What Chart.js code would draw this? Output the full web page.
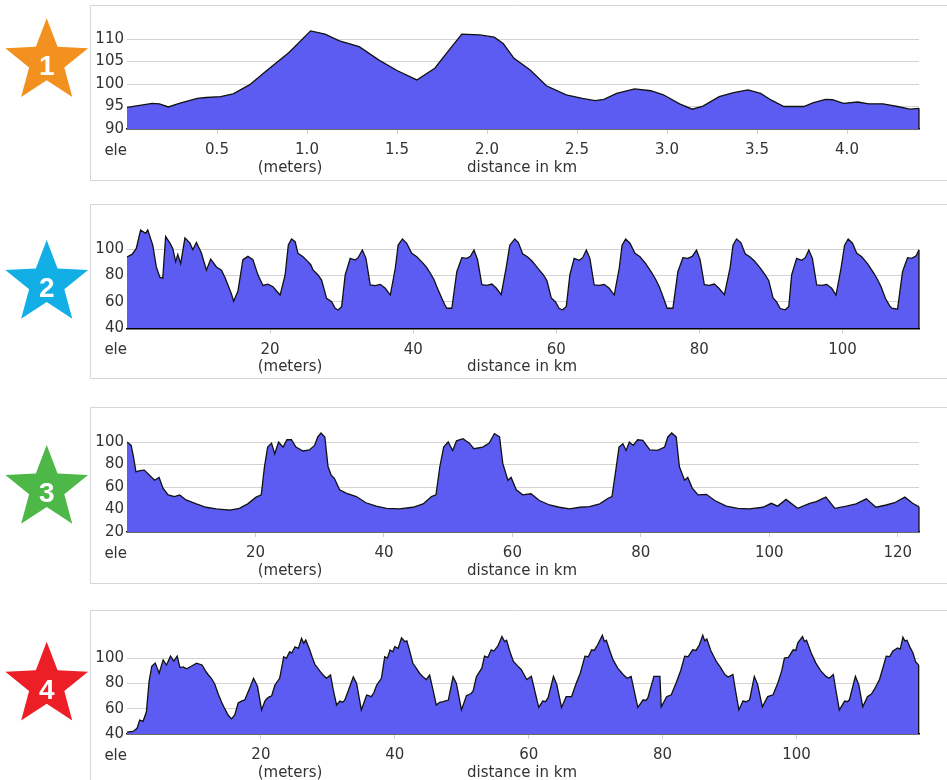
<!DOCTYPE html>
<html>
<head>
<meta charset="utf-8">
<script src="https://cdn.jsdelivr.net/npm/chart.js@4.4.0/dist/chart.umd.min.js"></script>
<style>
  body { margin: 0; background: #fff; width: 947px; height: 780px; position: relative; overflow: hidden; }
  canvas { position: absolute; left: 0; }
</style>
</head>
<body>
<canvas id="c1" width="947" height="195" style="top:0px"></canvas>
<canvas id="c2" width="947" height="200" style="top:195px"></canvas>
<canvas id="c3" width="947" height="200" style="top:395px"></canvas>
<canvas id="c4" width="947" height="185" style="top:595px"></canvas>
<script>
// === Profil 1 : distance (km) / altitude (m) ===
const dist1 = [0, 0.14, 0.18, 0.23, 0.29, 0.39, 0.44, 0.52, 0.59, 0.68, 0.78, 0.9, 1.02, 1.1, 1.18, 1.29, 1.4, 1.5, 1.61, 1.71, 1.79, 1.86, 1.96, 2.04, 2.09, 2.15, 2.24, 2.33, 2.44, 2.53, 2.6, 2.65, 2.72, 2.82, 2.91, 2.98, 3.07, 3.14, 3.2, 3.29, 3.37, 3.45, 3.52, 3.58, 3.65, 3.76, 3.81, 3.88, 3.92, 3.98, 4.06, 4.12, 4.2, 4.28, 4.35, 4.4];
const ele1 = [94.8, 95.7, 95.6, 94.9, 95.7, 96.8, 97.0, 97.2, 97.8, 99.8, 103.1, 107.0, 111.8, 111.1, 109.6, 108.3, 105.3, 103.0, 100.9, 103.5, 107.6, 111.1, 110.9, 110.4, 109.0, 105.7, 103.1, 99.6, 97.6, 96.8, 96.3, 96.6, 97.9, 98.9, 98.5, 97.6, 95.6, 94.4, 95.1, 97.2, 98.1, 98.7, 97.9, 96.4, 95.0, 95.0, 95.8, 96.6, 96.5, 95.7, 96.0, 95.6, 95.6, 95.0, 94.4, 94.6];
const xTicks1 = [0.5, 1.0, 1.5, 2.0, 2.5, 3.0, 3.5, 4.0];
const yTicks1 = [90, 95, 100, 105, 110];

// === Profil 2 ===
const dist2 = [0, 0.7, 1.3, 1.9, 2.6, 2.9, 3.6, 4.1, 4.6, 5.0, 5.4, 6.0, 6.4, 6.8, 7.1, 7.5, 8.1, 8.8, 9.2, 9.7, 10.4, 11.1, 11.7, 12.5, 13.2, 13.7, 14.6, 14.9, 15.5, 16.2, 16.9, 17.6, 18.3, 19.0, 19.7, 20.4, 21.4,
  22.1, 22.55, 23.0, 23.5, 23.9, 24.6, 25.3, 25.7, 26.0, 26.7, 27.2, 27.9, 28.6, 29.1, 29.5, 30.0, 30.5, 31.2, 31.9, 32.3, 32.9, 33.4, 34.0, 34.7, 35.4, 36.1, 36.8,
  37.5, 37.9, 38.5, 39.1, 39.8, 40.5, 41.0, 41.4, 41.9, 42.4, 42.9, 43.3, 44.0, 44.4, 44.7, 45.4, 46.1, 46.8, 47.5, 48.0, 48.5, 49.0, 49.6, 50.3, 51.0, 51.6, 52.3,
  53.0, 53.5, 54.2, 54.7, 55.3, 56.0, 56.6, 57.0, 57.5, 58.2, 58.7, 59.3, 59.9, 60.4, 60.9, 61.4, 61.9, 62.5, 63.2, 63.7, 64.2, 64.7, 65.3, 66.0, 66.7, 67.4, 68.1,
  68.8, 69.2, 69.7, 70.3, 71.0, 71.7, 72.5, 73.4, 73.9, 74.4, 75.0, 75.5, 76.3, 77.0, 77.7, 78.4, 79.0, 79.6, 80.1, 80.7, 81.4, 82.1, 82.7, 83.5,
  84.3, 84.7, 85.2, 85.8, 86.4, 87.1, 87.7, 88.1, 88.6, 89.2, 89.7, 90.3, 90.8, 91.3, 92.0, 92.5, 92.9, 93.6, 94.3, 94.8, 95.3, 95.8, 96.4, 97.1, 97.8, 98.5, 99.1,
  99.8, 100.3, 100.8, 101.4, 102.0, 102.7, 103.5, 104.4, 104.9, 105.4, 106.0, 106.6, 106.9, 107.7, 108.4, 109.1, 109.7, 110.3, 110.7];
const ele2 = [94, 96, 100.5, 114.5, 112, 114.5, 103, 86.5, 78.5, 78, 109.5, 104.5, 100.5, 90.5, 96, 89, 108.5, 104.5, 99.5, 105, 97, 84, 92.5, 86.5, 84, 78.5, 66, 60.5, 68, 92, 94.5, 92, 80.5, 72.5, 73.5, 71.5, 65.2,
  80.4, 103.1, 107.7, 105.6, 96.8, 94.2, 90.5, 88, 84.2, 80.4, 76.6, 62.7, 60.2, 55.2, 53.9, 56.4, 80.4, 93, 91.7, 93.5, 99.3, 93, 72.8, 72.3, 73.3, 70.3, 65.2,
  85.5, 103.1, 107.7, 104.4, 96.8, 94.2, 91.5, 89.2, 86, 81.7, 77, 71.5, 62.7, 58, 55.2, 55.2, 83, 93.5, 93, 94.5, 99.3, 92, 73, 72.5, 73.5, 70.5, 65.5,
  86, 103, 107.7, 105, 96.5, 94, 91, 88.5, 85, 80.5, 76, 63, 60, 55, 54, 56.5, 80.5, 93, 91.5, 93.5, 99.3, 93, 72.8, 72.5, 73.3, 70.3, 65.2,
  85.5, 103, 107.7, 104.5, 96.8, 94.2, 89, 81.7, 77, 71.5, 62.7, 55.2, 55.2, 83, 93.5, 93, 94.5, 99.3, 92, 73, 72.5, 73.5, 70.5, 65.5,
  86, 103, 107.7, 105, 96.5, 94, 91, 88.5, 85, 80.5, 76, 63, 60, 55, 54, 56.5, 80.5, 93, 91.5, 93.5, 99.3, 93, 72.8, 72.5, 73.3, 70.3, 65.2,
  85.5, 103, 107.7, 104.5, 96.8, 94.2, 89, 81.7, 77, 71.5, 62.7, 57, 55.2, 54.5, 83, 93.5, 93, 95, 99.5];
const xTicks2 = [20, 40, 60, 80, 100];
const yTicks2 = [40, 60, 80, 100];

// === Profil 3 ===
const dist3 = [0, 0.65, 1.0, 1.4, 2.0, 2.7, 3.5, 4.3, 5.0, 5.6, 6.4, 7.4, 8.2, 9.2, 10.8, 12.3, 13.9, 16.0, 17.5, 18.8, 20.1, 20.9, 21.4, 21.9, 22.5, 23.0, 23.6, 24.3, 24.9, 25.6, 26.3, 27.4, 28.4, 29.2, 29.7, 30.2, 30.8, 31.3, 31.8, 32.3, 33.1, 34.1, 35.7, 37.2, 38.8, 40.4, 42.4, 44.5, 46.1, 47.4, 48.1, 48.7, 49.3, 50.0, 50.7, 51.3, 52.3, 53.3, 54.0, 55.4, 56.4, 57.2, 58.0, 58.5, 59.3, 59.8, 60.6, 61.6, 62.9, 64.2, 65.8, 67.3, 68.9, 70.5, 72.0, 73.6, 74.9, 75.5, 76.1, 76.6, 77.2, 77.7, 78.2, 78.8, 79.5, 80.3, 81.4, 82.6, 83.7, 84.2, 84.8, 85.5, 86.0, 86.8, 87.3, 88.0, 88.9, 90.2, 91.5, 93.3, 95.1, 96.9, 99.0, 100.3, 101.3, 102.6, 104.4, 106.3, 107.3, 108.8, 110.2, 112.0, 113.5, 115.1, 116.6, 118.2, 119.5, 121.1, 122.3, 123.3];
const ele3 = [100, 97, 87, 73.5, 74.5, 75, 70.5, 66, 68.5, 59, 53, 51.5, 53, 48.5, 45, 42, 40.5, 39.5, 41, 45, 51, 53, 78, 95.5, 99, 89.5, 100, 95.5, 102, 102, 95.5, 92, 93, 97, 104.5, 108, 104.5, 78, 70.5, 67.5, 57.5, 54.5, 51.5, 46, 43, 41, 40.5, 42, 45, 51.5, 53, 78, 95.5, 100, 92.5, 101, 103, 99, 94, 95.5, 99, 107.5, 104.5, 81, 66, 68.5, 57.5, 53, 54, 48, 44, 42, 40.5, 42, 42.5, 45, 50, 51.5, 75, 95.5, 98.5, 92.5, 100, 97, 102, 101.5, 93, 92.5, 95.5, 104.5, 108, 104.5, 78, 66, 68.5, 59, 53, 53.5, 48, 43, 41, 40.5, 42, 45.5, 43, 49, 41, 45.5, 47, 51, 41, 43, 45, 49.5, 42, 44, 46, 51, 45.5, 42.5];
const xTicks3 = [20, 40, 60, 80, 100, 120];
const yTicks3 = [20, 40, 60, 80, 100];

// === Profil 4 ===
const dist4 = [0, 0.9, 1.5, 1.9, 2.4, 2.9, 3.3, 3.7, 4.2, 4.4, 4.8, 5.4, 5.9, 6.5, 7.0, 7.5, 7.9, 8.4, 8.9, 9.6, 10.4, 11.2, 11.7, 12.1, 12.6, 13.1, 13.6, 14.1, 14.6, 15.1, 15.6, 16.1, 16.6, 17.1, 17.6, 18.3, 18.9, 19.5, 20.1,
  20.6, 20.9, 21.3, 21.6, 22.1, 22.8, 23.2, 23.4, 23.8, 24.3, 24.6, 25.1, 25.6, 26.07, 26.4, 26.7, 27.3, 27.7, 28.1, 28.5, 28.9, 29.3, 29.8, 30.4, 30.8, 31.3, 31.8, 32.2, 32.5, 33.0, 33.8, 34.3, 35.0,
  35.8, 36.5, 36.9, 37.3, 38.0, 38.5, 38.9, 39.3, 39.7, 40.0, 40.5, 41.0, 41.5, 41.8, 42.2, 42.7, 43.2, 43.7, 44.2, 44.7, 45.2, 45.7, 46.2, 46.7, 47.2, 48.0, 48.7, 49.2, 49.96,
  50.7, 51.4, 51.7, 52.2, 53.0, 53.4, 53.9, 54.4, 54.8, 55.4, 56.0, 56.4, 56.7, 57.2, 57.7, 58.3, 58.9, 59.3, 59.7, 60.4, 61.0, 61.5, 62.1, 62.5, 62.9, 63.7, 64.2, 64.9,
  65.6, 66.4, 67.1, 67.7, 68.4, 68.9, 69.4, 69.8, 70.3, 71.0, 71.3, 71.6, 72.1, 72.6, 73.3, 74.1, 74.7, 75.3, 75.8, 76.3, 77.1, 77.5, 77.8, 78.7, 79.6, 79.8,
  80.6, 81.3, 82.0, 82.7, 83.3, 83.8, 84.5, 85.0, 85.5, 86.0, 86.3, 86.6, 87.2, 88.0, 88.6, 89.3, 89.8, 90.5, 90.9, 91.4, 92.0, 92.5, 93.0, 93.7, 94.2, 94.9,
  95.7, 96.5, 97.2, 97.8, 98.2, 98.8, 99.5, 99.9, 100.2, 100.9, 101.2, 101.5, 102.2, 102.9, 103.6, 104.4, 104.9, 105.5, 105.9, 106.4, 107.2, 107.6, 107.9, 108.8, 109.3, 109.9,
  110.6, 111.2, 111.6, 112.4, 113.0, 113.4, 113.9, 114.4, 115.1, 115.5, 115.9, 116.2, 116.5, 117.0, 117.4, 117.8, 118.25];
const ele4 = [41.5, 42, 44.5, 51, 50, 57.5, 81.5, 93.5, 96, 93.5, 88, 98.5, 94.5, 101.5, 97.5, 101.5, 92.5, 93, 91.5, 93.5, 96, 94.5, 90, 87, 84, 79.5, 72, 65.5, 60, 55, 52, 55, 64.5, 66, 67, 76, 84, 77.5, 59,
  66, 68, 69.5, 70, 78.7, 84, 95, 101, 99.8, 105, 104, 108.9, 107.6, 115.5, 111.6, 114.2, 106.3, 100, 94.5, 92, 89, 86.6, 84, 86.6, 75, 62.9, 66, 65, 66.5, 73.4, 85.2, 80, 59,
  70.8, 69.5, 73, 78.7, 84, 101, 100, 106.3, 105, 108.9, 107.6, 116, 112.9, 113.5, 106, 95.8, 92, 88, 85.2, 83, 86.6, 75, 62.9, 65, 65.5, 66.8, 85.2, 80, 59,
  70.3, 72, 74, 85.5, 92, 101.5, 100.5, 106.5, 105.5, 109.5, 117, 113, 114, 105, 97.5, 94, 90.8, 87, 83, 85.5, 72, 61, 66, 65.5, 68.5, 85.5, 79, 61,
  69.5, 69.5, 80, 88, 101.5, 101, 106.5, 106, 110.5, 118, 113, 114, 106, 98.5, 92, 87, 84, 85.5, 73, 61, 67, 66.5, 68.5, 85.5, 85.5, 61.5,
  69.5, 71, 80, 90, 101.5, 101, 106.5, 106, 110.5, 118, 113.5, 115, 106, 97.5, 93, 87, 85, 87, 74, 59, 66, 65.5, 67, 85.5, 79, 61.5,
  69.5, 71, 80, 90, 100, 100.5, 106.5, 106, 112, 117, 113, 114, 104, 96, 90, 85.5, 84, 87, 74, 59, 66, 65.5, 67, 85.5, 79, 61.5,
  69.5, 71.5, 75, 83, 94, 101.5, 101, 105.5, 108, 107, 116.5, 113.5, 114, 108, 104, 97, 94.5];
const xTicks4 = [20, 40, 60, 80, 100];
const yTicks4 = [40, 60, 80, 100];

const starColors = ["#f29120", "#12aee6", "#4db748", "#ec1f27"];
const FILL = "#5c5cf2";
const FONT = "'DejaVu Sans', sans-serif";

// Réglages de mise en page de chaque panneau
const panels = [
  { id: "c1", h: 195, dist: dist1, ele: ele1, xTicks: xTicks1, yTicks: yTicks1, xMax: 4.4, yMin: 90, yMax: 113, plotTop: 25.5, plotBottom: 129, frameTop: 5, frameBottom: 180, starY: 61.8, num: "1", dec: 1 },
  { id: "c2", h: 200, dist: dist2, ele: ele2, xTicks: xTicks2, yTicks: yTicks2, xMax: 110.7, yMin: 40, yMax: 116, plotTop: 33, plotBottom: 133.3, frameTop: 9, frameBottom: 183, starY: 88.5, num: "2", dec: 0 },
  { id: "c3", h: 200, dist: dist3, ele: ele3, xTicks: xTicks3, yTicks: yTicks3, xMax: 123.3, yMin: 20, yMax: 110, plotTop: 35.75, plotBottom: 137, frameTop: 12, frameBottom: 188, starY: 93.5, num: "3", dec: 0 },
  { id: "c4", h: 185, dist: dist4, ele: ele4, xTicks: xTicks4, yTicks: yTicks4, xMax: 118.3, yMin: 40, yMax: 120, plotTop: 37.7, plotBottom: 139, frameTop: 15, frameBottom: 400, starY: 90.2, num: "4", dec: 0 }
];

function drawStar(c, cx, cy, R, r) {
  c.beginPath();
  for (let k = 0; k < 10; k++) {
    const a = -Math.PI / 2 + k * Math.PI / 5;
    const rad = k % 2 ? r : R;
    c.lineTo(cx + rad * Math.cos(a), cy + rad * Math.sin(a));
  }
  c.closePath();
  c.fill();
}

function makeChart(p, idx) {
  // étoile numérotée, cadre et libellés
  const deco = {
    id: "deco",
    beforeDraw(chart) {
      const c = chart.ctx;
      c.save();
      c.strokeStyle = "#d6d6d6";
      c.lineWidth = 1;
      c.beginPath();
      c.moveTo(960, p.frameTop + 0.5);
      c.lineTo(90.5, p.frameTop + 0.5);
      c.lineTo(90.5, p.frameBottom + 0.5);
      c.lineTo(960, p.frameBottom + 0.5);
      c.stroke();
      c.restore();
    },
    afterDatasetsDraw(chart) {
      const pts = chart.getDatasetMeta(0).data;
      const last = pts[pts.length - 1];
      const c = chart.ctx;
      c.save();
      c.strokeStyle = "#111";
      c.lineWidth = 1.3;
      c.beginPath();
      c.moveTo(last.x, last.y);
      c.lineTo(last.x, chart.chartArea.bottom);
      c.stroke();
      c.restore();
    },
    afterDraw(chart) {
      const c = chart.ctx;
      const base = chart.chartArea.bottom;
      c.save();
      c.fillStyle = starColors[idx];
      drawStar(c, 46.7, p.starY, 43.5, 18.5);
      c.fillStyle = "#fff";
      c.font = "bold 28px 'Liberation Sans', Arial, sans-serif";
      c.textAlign = "center";
      c.textBaseline = "alphabetic";
      c.fillText(p.num, 46.7, p.starY + 13.5);

      c.fillStyle = "#333";
      c.font = "15px " + FONT;
      c.textAlign = "right";
      c.fillText("ele", 127, base + 26);
      c.textAlign = "center";
      c.fillText("(meters)", 290, base + 42.5);
      c.fillText("distance in km", 522, base + 42.5);
      c.restore();
    }
  };

  new Chart(document.getElementById(p.id), {
    type: "line",
    data: {
      datasets: [{
        data: p.dist.map((d, i) => ({ x: d, y: p.ele[i] })),
        fill: "start",
        backgroundColor: FILL,
        borderColor: "#111",
        borderWidth: 1.3,
        pointRadius: 0,
        tension: 0
      }]
    },
    options: {
      responsive: false,
      animation: false,
      events: [],
      layout: { padding: { left: 87, right: 28, top: p.plotTop, bottom: 0 } },
      plugins: { legend: { display: false }, tooltip: { enabled: false } },
      scales: {
        x: {
          type: "linear",
          min: 0,
          max: p.xMax,
          afterFit: s => { s.height = p.h - p.plotBottom; },
          afterBuildTicks: s => { s.ticks = p.xTicks.map(v => ({ value: v })); },
          grid: { drawOnChartArea: false, drawTicks: true, tickLength: 5, tickColor: "#cfcfcf" },
          border: { display: true, color: "#000", width: 1.5 },
          ticks: {
            color: "#333",
            font: { family: FONT, size: 15 },
            padding: 7.5,
            maxRotation: 0,
            autoSkip: false,
            callback: v => Number(v).toFixed(p.dec)
          }
        },
        y: {
          min: p.yMin,
          max: p.yMax,
          afterFit: s => { s.width = 40; },
          afterBuildTicks: s => { s.ticks = p.yTicks.map(v => ({ value: v })); },
          grid: { color: "#d3d3d3", drawTicks: false, lineWidth: 1 },
          border: { display: false },
          ticks: { color: "#333", font: { family: FONT, size: 15 }, padding: 3 }
        }
      }
    },
    plugins: [deco]
  });
}

panels.forEach(makeChart);
</script>
</body>
</html>
